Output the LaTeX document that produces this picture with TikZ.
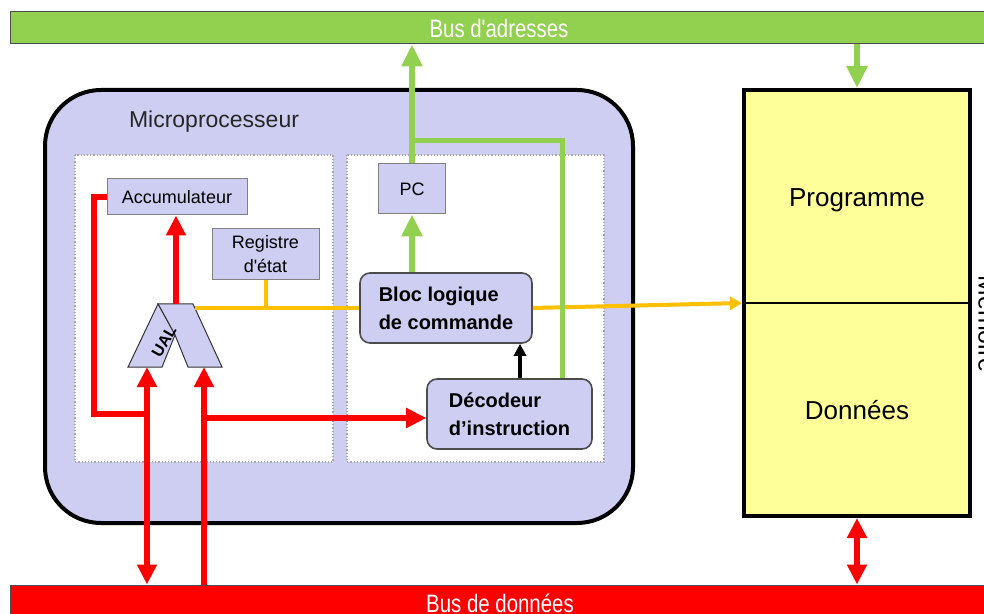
\documentclass[tikz,border=0pt]{standalone}
\usepackage{fontspec}
\setmainfont{Liberation Sans}[Ligatures=TeXOff]
\usepackage{xcolor}
\usetikzlibrary{arrows.meta}

\definecolor{lav}{RGB}{206,206,242}
\definecolor{busgreen}{RGB}{146,208,80}
\definecolor{memyellow}{RGB}{255,255,153}
\definecolor{ctrlorange}{RGB}{255,192,0}

\begin{document}
\begin{tikzpicture}[x=0.5pt, y=-0.5pt,
  regbox/.style={draw=gray, line width=0.5pt, fill=lav, inner sep=0pt, align=center, font=\fontsize{9}{12}\selectfont},
  blkbox/.style={draw=black!70, line width=0.8pt, fill=lav, rounded corners=5pt, inner sep=0pt, align=left, font=\fontsize{10}{14}\selectfont\bfseries},
  panel/.style={draw=gray!70, densely dotted, line width=0.6pt, fill=white},
  busbar/.style={draw=gray!60!black, line width=0.5pt, inner sep=0pt, text=white, font=\fontsize{12.6}{14}\selectfont},
  redln/.style={red, line width=3pt},
  redarr/.style={redln, -{Triangle[width=9.5pt, length=10pt]}},
  redboth/.style={redln, {Triangle[width=9.5pt, length=10pt]}-{Triangle[width=9.5pt, length=10pt]}},
  grnln/.style={busgreen, line width=2.5pt},
  grnarr/.style={busgreen, line width=3pt, -{Triangle[width=10pt, length=11pt]}},
  orgln/.style={ctrlorange, line width=2pt},
  orgarr/.style={orgln, -{Triangle[width=6.5pt, length=6pt]}},
  blkarr/.style={black, line width=2pt, -{Triangle[width=6pt, length=6pt]}}]
  \clip (0,0) rectangle (984,614);
  % Buses
  \node[busbar, fill=busgreen, minimum width=489pt, minimum height=16pt] (abus) at (499,28) {\scalebox{0.81}[1]{Bus d'adresses}};
  \node[busbar, fill=red, minimum width=490pt, minimum height=18pt] (dbus) at (500,603) {\scalebox{0.81}[1]{Bus de données}};
  % Microprocesseur
  \draw[line width=2pt, fill=lav, rounded corners=28pt] (45,90) rectangle (633,523);
  \node[font=\fontsize{11.5}{13}\selectfont, text=black!85] (micro) at (214,122) {Microprocesseur};
  \draw[panel] (75,155) rectangle (333,462);
  \draw[panel] (347,155) rectangle (604,462);
  % Memoire
  \node[draw, line width=2pt, fill=memyellow, minimum width=113pt, minimum height=213pt, inner sep=0pt] (mem) at (857,303) {};
  \draw[line width=0.6pt] (mem.west) -- (mem.east);
  \node[font=\fontsize{13}{15}\selectfont] (prog) at (857,200) {Programme};
  \node[font=\fontsize{13}{15}\selectfont] (donn) at (857,410) {Données};
  \node[rotate=-90, anchor=south, inner sep=0pt, font=\fontsize{12.5}{15}\selectfont] (memlbl) at (978,324) {Mémoire};
  % Registres et blocs
  \node[regbox, minimum width=70pt, minimum height=18pt] (acc) at (177,197) {Accumulateur};
  \node[regbox, minimum width=53.5pt, minimum height=25.5pt] (reg) at (265.5,254.5) {Registre\\d'état};
  \node[regbox, minimum width=33.5pt, minimum height=25pt] (pc) at (412,189) {PC};
  \node[blkbox, minimum width=86pt, minimum height=35pt] (bloc) at (446,308) {Bloc logique\\de commande};
  \node[blkbox, minimum width=82.5pt, minimum height=35pt] (dec) at (509.5,414) {Décodeur\\d’instruction};
  % UAL
  \filldraw[fill=lav, draw=black!80, line width=0.5pt] (158,304) -- (193,304) -- (222,367) -- (188,367) -- (175,335) -- cycle;
  \filldraw[fill=lav, draw=black!80, line width=0.5pt] (158,304) -- (128,367) -- (162,367) -- (175,335) -- cycle;
  \node[rotate=60, inner sep=0pt, font=\fontsize{8}{9}\selectfont\bfseries] (ual) at (164,342) {UAL};
  \coordinate (ualt) at (176,304);
  \coordinate (uall) at (147,367);
  \coordinate (ualr) at (204,367);
  \coordinate (ualo) at (195,308);
  % Commande
  \draw[orgln] (ualo) -- (bloc.west);
  \draw[orgln] (reg.south) -- (reg.south |- ualo);
  \draw[orgarr] (bloc.east) -- (mem.west);
  \draw[blkarr] (520,0 |- dec.north) -- (520,0 |- bloc.south);
  % Adresses
  \draw[grnarr] (pc.north) -- (pc.north |- abus.south);
  \draw[grnarr] (bloc.north -| pc.south) -- (pc.south);
  \draw[grnln] (dec.north -| 562,0) |- (pc.north |- 0,141);
  \draw[grnarr] (abus.south -| mem.north) -- (mem.north);
  % Donnees
  \draw[redarr] (ualt) -- (ualt |- acc.south);
  \draw[redln] (acc.west) -| (94,414) -- (uall |- 0,414);
  \draw[redboth] (dbus.north -| uall) -- (uall);
  \draw[redarr] (dbus.north -| ualr) -- (ualr);
  \draw[redarr] (ualr |- 0,418) -- (dec.west |- 0,418);
  \draw[redboth] (mem.south) -- (mem.south |- dbus.north);
\end{tikzpicture}
\end{document}
